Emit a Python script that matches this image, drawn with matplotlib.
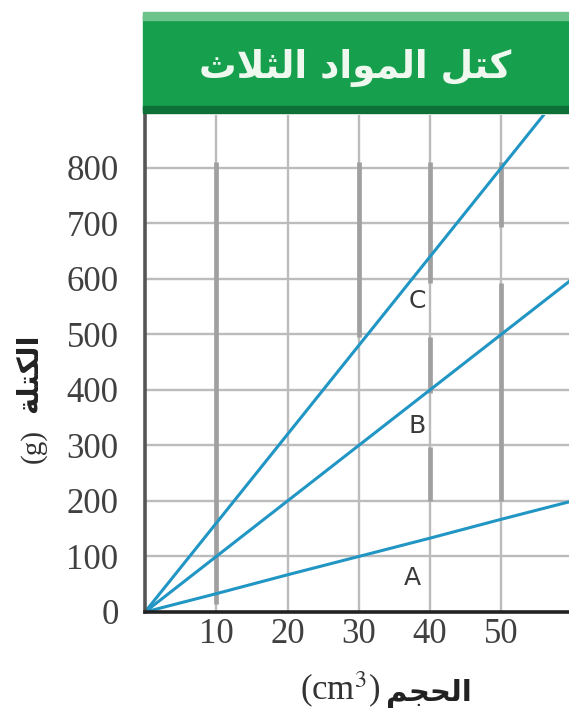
import matplotlib.pyplot as plt
from matplotlib.patches import Rectangle

plt.rcParams['mathtext.fontset'] = 'stix'

# data
volume = [0, 10, 20, 30, 40, 50, 60]
mass_A = [0, 33, 67, 100, 133, 167, 200]
mass_B = [0, 100, 200, 300, 400, 500, 600]
mass_C = [0, 160, 320, 480, 640, 800, 960]
x_ticks = [10, 20, 30, 40, 50]
y_ticks = [0, 100, 200, 300, 400, 500, 600, 700, 800]
labels = {'A': (37.5, 62), 'B': (38.2, 335), 'C': (38.2, 560)}

# darker pieces of the vertical grid lines (scan artefact in the original)
dark_bits = {10: [(15, 810)], 30: [(495, 810)],
             40: [(593, 810), (395, 495), (200, 297)],
             50: [(694, 810), (200, 593)]}


def arabic(glyphs):
    # matplotlib has no shaping, so presentation forms are given and reversed
    return ''.join(chr(g) for g in reversed(glyphs))


title = arabic([0xFEDB, 0xFE98, 0xFEDE, 0x20,
                0xFE8D, 0xFEDF, 0xFEE4, 0xFEEE, 0xFE8D, 0xFEA9, 0x20,
                0xFE8D, 0xFEDF, 0xFE9C, 0xFEFC, 0xFE99])
ylab_ar = arabic([0xFE8D, 0xFEDF, 0xFEDC, 0xFE98, 0xFEE0, 0xFE94])
xlab_ar = arabic([0xFE8D, 0xFEDF, 0xFEA4, 0xFEA0, 0xFEE2])

W, H = 569, 718
fig = plt.figure(figsize=(W / 100, H / 100), dpi=100)
ax = fig.add_axes([145 / W, (H - 612) / H, (W - 145) / W, (612 - 115) / H])

line_col = '#2196c4'
grid_col = '#bcbcbc'

for y in y_ticks[1:]:
    ax.axhline(y, color=grid_col, lw=1.7, zorder=1)
for x in x_ticks:
    ax.axvline(x, color=grid_col, lw=1.7, zorder=1)
for x, parts in dark_bits.items():
    for y0, y1 in parts:
        ax.plot([x, x], [y0, y1], color='#a0a0a0', lw=3.4, zorder=1.5,
                solid_capstyle='butt')

for m in [mass_A, mass_B, mass_C]:
    ax.plot(volume, m, color=line_col, lw=2.2, zorder=3)

for name, (x, y) in labels.items():
    ax.text(x, y, name, fontsize=18, color='#3a3a3a', ha='center',
            va='center', family='DejaVu Sans', zorder=4)

ax.set_xlim(0, 59.5)
ax.set_ylim(0, 895)
ax.set_xticks(x_ticks)
ax.set_yticks(y_ticks)
ax.tick_params(length=0, labelsize=25, colors='#404040')
ax.tick_params(axis='x', pad=4)
ax.tick_params(axis='y', pad=19)
for lab in ax.get_xticklabels() + ax.get_yticklabels():
    lab.set_family('Liberation Serif')
for s in ['top', 'right']:
    ax.spines[s].set_visible(False)
ax.spines['left'].set_color('#555555')
ax.spines['left'].set_linewidth(2.6)
ax.spines['bottom'].set_color('#222222')
ax.spines['bottom'].set_linewidth(2.6)
ax.spines['left'].set_zorder(5)
ax.spines['bottom'].set_zorder(5)

# green title banner
fig.patches.append(Rectangle((143 / W, (H - 110) / H), (W - 143) / W, 95 / H,
                             transform=fig.transFigure, color='#16a04e',
                             zorder=0))
fig.patches.append(Rectangle((143 / W, (H - 20) / H), (W - 143) / W, 8 / H,
                             transform=fig.transFigure, color='#6cc38c',
                             zorder=0))
fig.patches.append(Rectangle((143 / W, (H - 113) / H), (W - 143) / W, 7 / H,
                             transform=fig.transFigure, color='#0d7036',
                             zorder=0))
fig.text(355 / W, (H - 68) / H, title, ha='center', va='center',
         fontsize=27, fontweight='bold', color='#eef8ee', family='DejaVu Sans')

# axis titles
fig.text(380 / W, (H - 690) / H, '(cm$^3$)', ha='right', va='center',
         fontsize=25, color='#333333', family='Liberation Serif')
fig.text(386 / W, (H - 693) / H, xlab_ar, ha='left', va='center',
         fontsize=21, fontweight='bold', color='#222222', family='DejaVu Sans')
fig.text(33 / W, (H - 446) / H, '(g)', ha='center', va='center', rotation=90,
         fontsize=21, color='#333333', family='Liberation Serif')
fig.text(29 / W, (H - 373) / H, ylab_ar, ha='center', va='center', rotation=90,
         fontsize=21, fontweight='bold', color='#222222', family='DejaVu Sans')

fig.savefig('out.png', dpi=100)
